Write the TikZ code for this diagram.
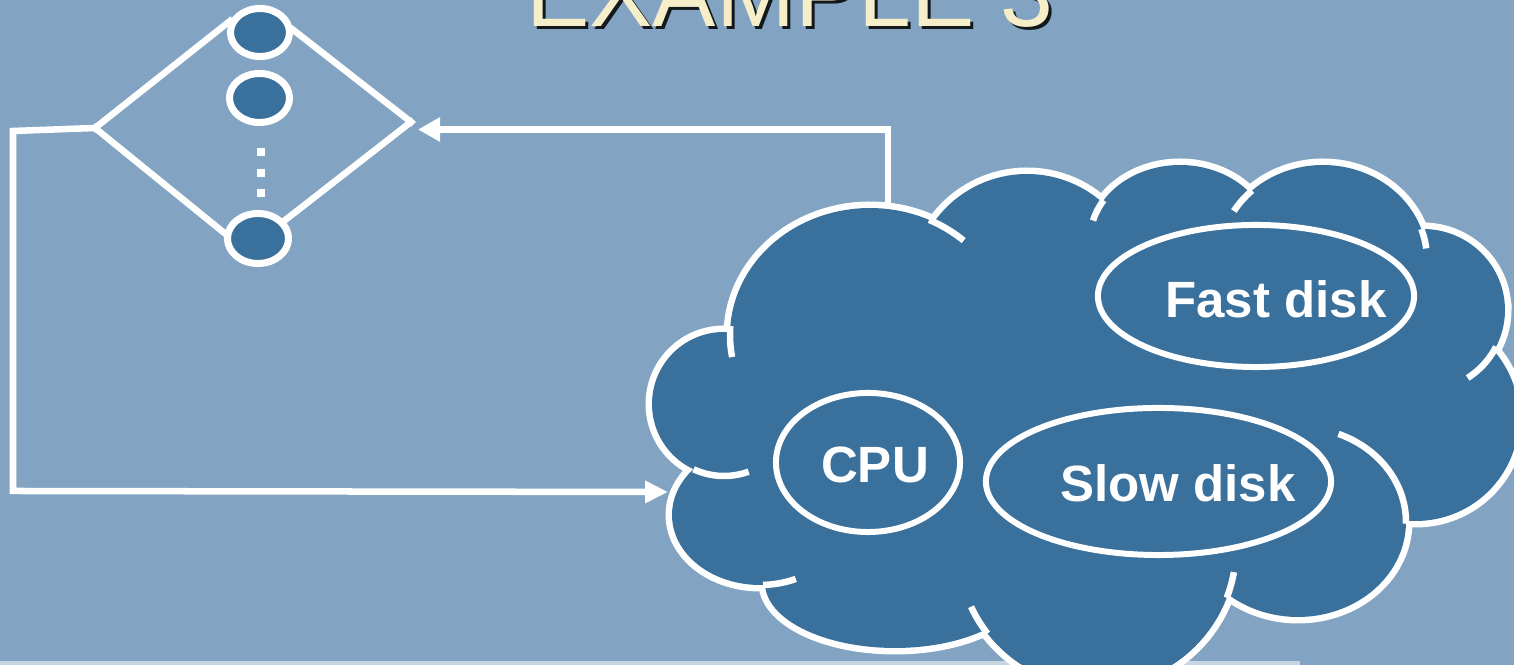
\documentclass[tikz,border=0pt]{standalone}
\usepackage{fontspec}
\setmainfont{Liberation Sans}
\usetikzlibrary{shapes.geometric,arrows.meta}
\definecolor{slide}{HTML}{82A4C2}
\definecolor{cloudblue}{HTML}{3A709C}
\definecolor{titlecream}{HTML}{F5EEC8}
\definecolor{footrule}{HTML}{C8D6E4}

\begin{document}
\begin{tikzpicture}[x=0.01cm, y=-0.01cm,
  wire/.style={white, line width=1.85pt, line cap=rect, line join=miter},
  puffrim/.style={white, line width=3.7pt},
  puff/.style={white, line width=1.85pt},
  bead/.style={ellipse, draw=white, fill=cloudblue, line width=2pt, inner sep=0pt},
  unit/.style={ellipse, draw=white, line width=1.7pt, inner sep=0pt},
  lbl/.style={text=white, font=\bfseries\fontsize{14.5pt}{17pt}\selectfont, inner sep=0pt},
  ttl/.style={anchor=base, inner sep=0pt, font=\fontsize{27pt}{30pt}\selectfont}
]
% page and clipping
\useasboundingbox (0,0) rectangle (1514,665);
\clip (0,0) rectangle (1514,665);
\fill[slide] (0,0) rectangle (1514,665);
\fill[footrule] (0,661.5) rectangle (1300,665);

% title
\node[ttl, text=black, opacity=0.85] (titleShadow) at (793,30) {EXAMPLE 3};
\node[ttl, text=titlecream] (title) at (790,27) {EXAMPLE 3};

% parallel branch of beads
\node[bead, minimum width=0.59cm, minimum height=0.48cm] (e1) at (260,32.5) {};
\node[bead, minimum width=0.60cm, minimum height=0.49cm] (e2) at (259.5,98) {};
\node[bead, minimum width=0.61cm, minimum height=0.50cm] (e3) at (258,238.5) {};
\coordinate (L) at (95,128);
\coordinate (R) at (411,122);
\coordinate (dtop) at (261,148);
\coordinate (dbot) at (261,198);
\draw[wire] (L) -- (e1.159);
\draw[wire] (e1.5) -- (R);
\draw[wire] (R) -- (e3.34);
\draw[wire] (L) -- (e3.171);
\draw[white, line width=2.3pt, dash pattern=on 2.3pt off 3.55pt] (dtop) -- (dbot);

% feedback connectors
\coordinate (cloudTop) at (888,209);
\coordinate (topTip) at (418,129.5);
\coordinate (leftTip) at (668,492);
\coordinate (loopA) at (13,131);
\coordinate (loopB) at (13,491);
\draw[wire, -{Triangle[length=6.3pt,width=6.6pt]}] (cloudTop) |- (topTip);
\draw[wire, -{Triangle[length=6.5pt,width=6pt]}] (L) -- (loopA) -- (loopB) -- (leftTip);

% cloud: puffs are ellipses cx/cy/rx/ry; a wide rim first, then the body over it
\def\puffs{870/335/140/127, 1027/288/114/114, 1180/240/90/75, 1323/260/104/95,
  1423/310/82/81, 1416/418/103/103, 1298/522/108/95, 1097/548/139/139,
  895/583/130/65, 760/515/88/70, 724/404/72/72}
\foreach \cx/\cy/\rx/\ry in \puffs
  \draw[puffrim] plot[domain=0:360, samples=120, variable=\t]
    ({\cx+\rx*cos(\t)},{\cy+\ry*sin(\t)}) -- cycle;
\fill[cloudblue] (730,333) -- (934,222) -- (1102,203) -- (1250,192) -- (1421,229)
  -- (1494,350) -- (1406,521) -- (1229,595) -- (985,629) -- (765,585) -- (697,465) -- cycle;
\foreach \cx/\cy/\rx/\ry in \puffs
  \fill[cloudblue] plot[domain=0:360, samples=120, variable=\t]
    ({\cx+\rx*cos(\t)},{\cy+\ry*sin(\t)}) -- cycle;

% creases where a puff runs on past its cusp
\foreach \cx/\cy/\rx/\ry/\ta/\tb in {870/335/140/127/170/184, 870/335/140/127/295/312,
  1180/240/90/75/195/212, 1323/260/104/95/211/227, 1323/260/104/95/341/353,
  1423/310/82/81/27/57, 1298/522/108/95/292/361, 1097/548/139/139/10/21,
  1097/548/139/139/142/155, 760/515/88/70/66/88, 724/404/72/72/70/115}
  \draw[puff] plot[domain=\ta:\tb, samples=30, variable=\t]
    ({\cx+\rx*cos(\t)},{\cy+\ry*sin(\t)});

% units inside the cloud
\node[unit, minimum width=1.84cm, minimum height=1.39cm] (cpu) at (868,462.5) {};
\node[unit, minimum width=3.16cm, minimum height=1.42cm] (fast) at (1256,296) {};
\node[unit, minimum width=3.45cm, minimum height=1.47cm] (slow) at (1158.5,481.5) {};
\node[lbl] (cpuText) at (875,465) {CPU};
\node[lbl] (fastText) at (1276,299) {Fast disk};
\node[lbl] (slowText) at (1178,483) {Slow disk};
\end{tikzpicture}
\end{document}
